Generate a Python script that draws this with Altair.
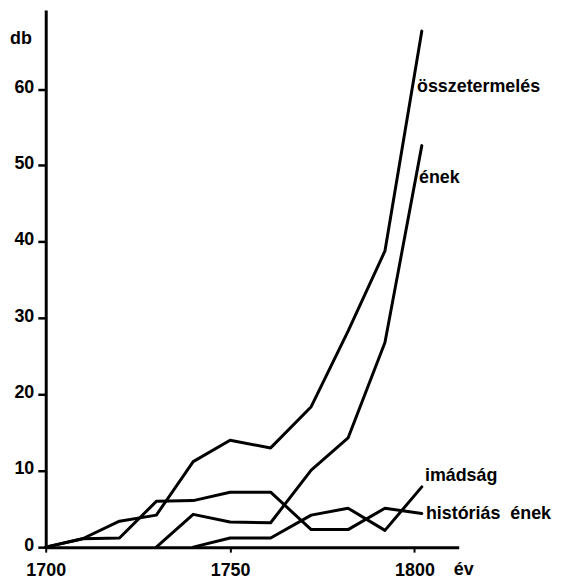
import altair as alt
import pandas as pd

# ---- data ----
years = [1700, 1710, 1720, 1730, 1740, 1750, 1761, 1772, 1782, 1792, 1802]
osszterm = [0, 1.1, 3.4, 4.2, 11.2, 14.0, 13.0, 18.4, 28.3, 38.8, 67.6]
enek = [None, None, None, 0, 4.3, 3.3, 3.2, 10.1, 14.3, 26.8, 52.6]
historias = [0, 1.1, 1.2, 6.0, 6.1, 7.2, 7.2, 2.3, 2.3, 5.1, 4.4]
imadsag = [None, None, None, None, 0, 1.2, 1.2, 4.2, 5.1, 2.2, 7.9]
series_names = ["összetermelés", "ének", "históriás ének", "imádság"]
y_ticks = [0, 10, 20, 30, 40, 50, 60]
x_ticks = [1700, 1750, 1800]

rows = []
for name, vals in zip(series_names, [osszterm, enek, historias, imadsag]):
    for yr, v in zip(years, vals):
        if v is not None:
            rows.append({"ev": yr, "db": v, "sorozat": name})
df = pd.DataFrame(rows)

FONT = "Liberation Sans"
W, H = 416, 541

lines = alt.Chart(df).mark_line(
    color="black", strokeWidth=3, strokeJoin="round", strokeCap="round", clip=False
).encode(
    x=alt.X("ev:Q",
            scale=alt.Scale(domain=[1700, 1812], nice=False, zero=False),
            axis=alt.Axis(values=x_ticks, format="d", title=None, grid=False,
                          domainColor="black", domainWidth=3,
                          tickColor="black", tickWidth=2, tickSize=5,
                          labelPadding=24, labelBaseline="alphabetic",
                          labelFont=FONT, labelFontSize=18, labelFontWeight="bold",
                          labelColor="black", labelFlush=False)),
    y=alt.Y("db:Q",
            scale=alt.Scale(domain=[0, 70.35], nice=False, zero=True),
            axis=alt.Axis(values=y_ticks, title=None, grid=False,
                          domainColor="black", domainWidth=3,
                          tickColor="black", tickWidth=2.5, tickSize=8,
                          labelPadding=4, labelBaseline="alphabetic", labelOffset=3,
                          labelFont=FONT, labelFontSize=18, labelFontWeight="bold",
                          labelColor="black", labelFlush=False)),
    detail="sorozat:N",
)


def label(txt, x, y, size=18):
    return alt.Chart(alt.Data(values=[{}])).mark_text(
        text=txt, align="left", baseline="alphabetic", font=FONT,
        fontSize=size, fontWeight="bold", color="black"
    ).encode(x=alt.value(x), y=alt.value(y))


texts = [
    label("db", -36, 34, 18),
    label("év", 411, 569, 18),
    label("összetermelés", 374, 82),
    label("ének", 376, 174),
    label("imádság", 382, 474),
    label("históriás\u00a0 ének", 383, 513),
]

chart = alt.layer(lines, *texts).properties(
    width=W, height=H,
    autosize=alt.AutoSizeParams(type="none"),
    padding={"left": 38, "top": 0, "right": 95, "bottom": 36},
    background="white",
).configure_view(stroke=None)

chart.save("out.html", embed_options={"renderer": "svg", "actions": False})
